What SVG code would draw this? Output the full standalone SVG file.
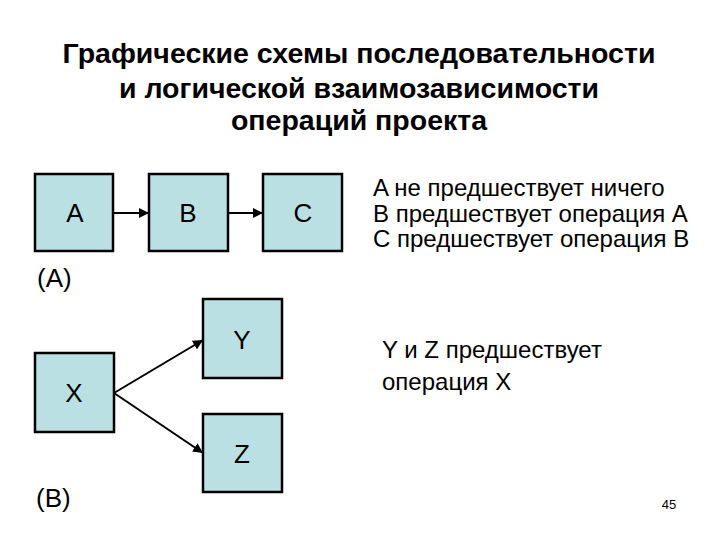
<svg xmlns="http://www.w3.org/2000/svg" width="720" height="540" viewBox="0 0 720 540">
<defs>
<style>
.title{font-family:"Liberation Sans",Arial,sans-serif;font-weight:bold;font-size:28.5px;fill:#000;text-anchor:middle}
.box{fill:#BBE0E3;stroke:#000;stroke-width:2.5}
.lbl{font-family:"Liberation Sans",Arial,sans-serif;font-size:26px;fill:#000;text-anchor:middle}
.txt{font-family:"Liberation Sans",Arial,sans-serif;font-size:24px;fill:#000}
.edge{stroke:#000;stroke-width:2;fill:none;marker-end:url(#ah)}
</style>
<marker id="ah" viewBox="0 0 10 10" refX="10" refY="5" markerWidth="5" markerHeight="5" orient="auto" markerUnits="strokeWidth">
<path d="M0,0 L10,5 L0,10 z" fill="#000"/>
</marker>
</defs>
<rect width="720" height="540" fill="#fff"/>
<g id="title">
<text class="title" x="359" y="63">Графические схемы последовательности</text>
<text class="title" x="359" y="98">и логической взаимозависимости</text>
<text class="title" x="359" y="130">операций проекта</text>
</g>
<g id="connectors">
<line class="edge" x1="113" y1="213" x2="149" y2="213"/>
<line class="edge" x1="228" y1="213" x2="263" y2="213"/>
<line class="edge" x1="114" y1="393" x2="203" y2="340"/>
<line class="edge" x1="114" y1="393" x2="203" y2="453"/>
</g>
<g id="node-A"><rect class="box" x="35" y="174" width="78" height="77"/><text class="lbl" x="75" y="222">A</text></g>
<g id="node-B"><rect class="box" x="149" y="174" width="79" height="77"/><text class="lbl" x="188" y="222">B</text></g>
<g id="node-C"><rect class="box" x="263" y="174" width="79" height="77"/><text class="lbl" x="303" y="222">C</text></g>
<g id="node-X"><rect class="box" x="35" y="353" width="79" height="79"/><text class="lbl" x="74" y="402">X</text></g>
<g id="node-Y"><rect class="box" x="203" y="299" width="79" height="79"/><text class="lbl" x="242" y="349">Y</text></g>
<g id="node-Z"><rect class="box" x="203" y="414" width="79" height="78"/><text class="lbl" x="242" y="463">Z</text></g>
<g id="labels">
<text class="lbl" x="37" y="287" style="text-anchor:start">(A)</text>
<text class="lbl" x="36" y="507" style="text-anchor:start">(B)</text>
<text class="txt" x="373" y="196">A не предшествует ничего</text>
<text class="txt" x="373" y="222">B предшествует операция A</text>
<text class="txt" x="373" y="247">C предшествует операция B</text>
<text class="txt" x="382" y="358">Y и Z предшествует</text>
<text class="txt" x="382" y="390">операция X</text>
<text x="669" y="509" style="font-family:'Liberation Sans',Arial,sans-serif;font-size:13px;text-anchor:middle">45</text>
</g>
</svg>
